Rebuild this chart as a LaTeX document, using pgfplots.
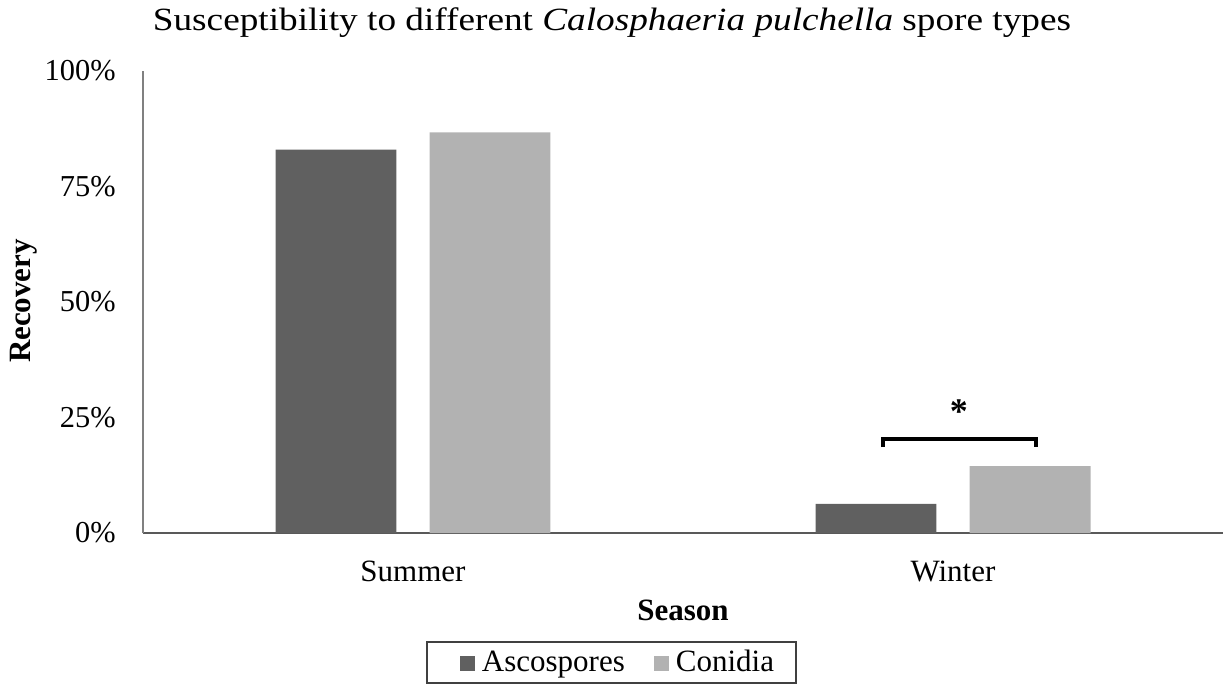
\documentclass[border=0pt]{standalone}
\usepackage{pgfplots}
\pgfplotsset{compat=1.18}
\usepackage{fontspec}
\setmainfont{Liberation Serif}
\newfontfamily\titlefont[FakeStretch=1.15]{Liberation Serif}
\definecolor{asco}{RGB}{96,96,96}
\definecolor{coni}{RGB}{178,178,178}
\newcommand\tickfont{\fontsize{15.2pt}{18pt}\selectfont}
\newcommand\chartfont{\fontsize{15.5pt}{18pt}\selectfont}

\begin{document}
\begin{tikzpicture}
\useasboundingbox (0,0) rectangle (612pt,342.5pt);
\begin{axis}[
  at={(71.5pt,76pt)}, anchor=south west,
  scale only axis, width=540pt, height=231pt,
  xmin=-0.5, xmax=1.5, ymin=0, ymax=1,
  ybar, bar width=0.224,
  axis x line=bottom, axis y line=left,
  every outer x axis line/.append style={-},
  every outer y axis line/.append style={-},
  x axis line style={-, draw=black!65, line width=1pt},
  y axis line style={-, draw=black!50, line width=0.7pt},
  major tick length=0pt,
  xtick={0,1}, xticklabels={Summer,Winter},
  ytick={0,0.25,0.5,0.75,1}, yticklabels={0\%,25\%,50\%,75\%,100\%},
  /pgf/number format/assume math mode=true,
  xticklabel style={font=\chartfont, anchor=base, inner sep=0pt, yshift=-24pt},
  yticklabel style={font=\tickfont, anchor=east, inner sep=0pt, xshift=-13.5pt},
  clip=false,
  legend style={at={(rel axis cs:0.4338,-0.3268)}, anchor=south,
    draw=black!75, line width=0.75pt, inner ysep=0pt, inner xsep=2pt,
    font=\chartfont, legend columns=2,
    nodes={inner sep=0pt, text height=14.5pt, text depth=6pt}},
  legend image code/.code={%
    \path (-14.5pt,0pt) (11pt,0pt);
    \fill[#1, draw=none] (0pt,-4pt) rectangle (7.5pt,3.5pt);},
]
\addplot[fill=asco, draw=none, bar shift=-0.1426] coordinates {(0,0.830) (1,0.063)};
\addlegendentry{Ascospores}
\addplot[fill=coni, draw=none, bar shift=0.1426] coordinates {(0,0.867) (1,0.145)};
\addlegendentry{Conidia\kern9pt}

% significance bracket over the winter bars
\draw[line width=2pt, black] (axis cs:0.870,0.186) |- (axis cs:1.154,0.2035) -- (axis cs:1.154,0.186);
\node[anchor=base, inner sep=0pt, font=\fontsize{18pt}{20pt}\selectfont\bfseries]
  at (axis cs:1.011,0.236) {*};
\end{axis}

\node[anchor=base, inner sep=0pt, font=\fontsize{16.2pt}{19pt}\titlefont] at (306pt,327pt)
  {Susceptibility to different \textit{Calosphaeria pulchella} spore types};
\node[anchor=base, rotate=90, inner sep=0pt, font=\chartfont\bfseries] at (15pt,192pt) {Recovery};
\node[anchor=base, inner sep=0pt, font=\chartfont\bfseries] at (341.5pt,32.5pt) {Season};
\end{tikzpicture}
\end{document}
